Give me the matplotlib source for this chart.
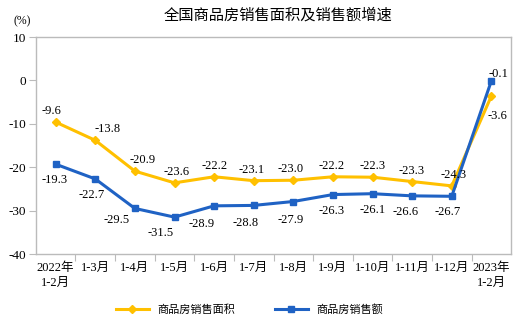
import matplotlib
matplotlib.use("Agg")
import matplotlib.pyplot as plt

plt.rcParams['font.family'] = ['Liberation Serif', 'Noto Sans CJK SC', 'DejaVu Sans']

categories = ["2022年\n1-2月", "1-3月", "1-4月", "1-5月", "1-6月", "1-7月", "1-8月",
              "1-9月", "1-10月", "1-11月", "1-12月", "2023年\n1-2月"]
area = [-9.6, -13.8, -20.9, -23.6, -22.2, -23.1, -23.0, -22.2, -22.3, -23.3, -24.3, -3.6]
sales = [-19.3, -22.7, -29.5, -31.5, -28.9, -28.8, -27.9, -26.3, -26.1, -26.6, -26.7, -0.1]
yticks = [10, 0, -10, -20, -30, -40]

name_area = "商品房销售面积"
name_sales = "商品房销售额"
title = "全国商品房销售面积及销售额增速"

c_y = "#FFC000"
c_b = "#1F62C4"

fig = plt.figure(figsize=(5.2, 3.28), dpi=100)
ax = fig.add_axes([0.069, 0.2256, 0.914, 0.6614])
x = list(range(len(categories)))
ax.plot(x, area, color=c_y, lw=2.2, marker="D", ms=4, label=name_area)
ax.plot(x, sales, color=c_b, lw=2.2, marker="s", ms=3.8, label=name_sales)

ax.set_xlim(-0.5, len(categories) - 0.5)
ax.set_ylim(-40, 10)
ax.set_yticks(yticks)
ax.set_yticklabels([str(v) for v in yticks], fontsize=9.5)
ax.set_xticks([i + 0.5 for i in range(len(categories) - 1)])
ax.set_xticklabels([])
ax.set_xticks(x, minor=True)
ax.set_xticklabels(categories, minor=True, fontsize=9,
                   family=['Liberation Serif', 'Noto Sans CJK SC'], linespacing=1.3)
ax.tick_params(axis='x', which='minor', length=0, pad=6)
ax.tick_params(axis='x', which='major', length=5, color="#BBBBBB", direction='out')
ax.tick_params(axis='y', length=5, color="#BBBBBB", direction='out', pad=2)
for s in ax.spines.values():
    s.set_color("#BBBBBB")
    s.set_linewidth(1)

# labels: yellow above
area_off = [(-4, 11), (12, 11), (8, 11), (2, 11), (0, 11), (-2, 11), (-3, 11),
            (-1, 11), (0, 11), (-1, 11), (2, 11), (6, -20)]
sales_off = [(-1, -16), (-4, -16), (-18, -12), (-14, -16), (-13, -18), (-8, -18),
             (-3, -18), (-1, -16), (0, -16), (-7, -16), (-4, -16), (7, 7)]
for i, v in enumerate(area):
    dx, dy = area_off[i]
    ax.annotate(f"{v:.1f}", (i, v), xytext=(dx, dy), textcoords='offset pixels',
                ha='center', va='center', fontsize=9)
for i, v in enumerate(sales):
    dx, dy = sales_off[i]
    ax.annotate(f"{v:.1f}", (i, v), xytext=(dx, dy), textcoords='offset pixels',
                ha='center', va='center', fontsize=9)

fig.text(0.535, 0.953, title, ha='center', va='center', fontsize=11,
         family=['Noto Sans CJK SC'], fontweight='medium')
fig.text(0.042, 0.935, "(%)", ha='center', va='center', fontsize=8.5)

leg = fig.legend(loc='center', bbox_to_anchor=(0.48, 0.055), ncol=2, frameon=False,
                 handlelength=3.0, columnspacing=3.5,
                 prop={'family': ['Noto Sans CJK SC'], 'size': 8})
fig.savefig("out.png", dpi=100)
